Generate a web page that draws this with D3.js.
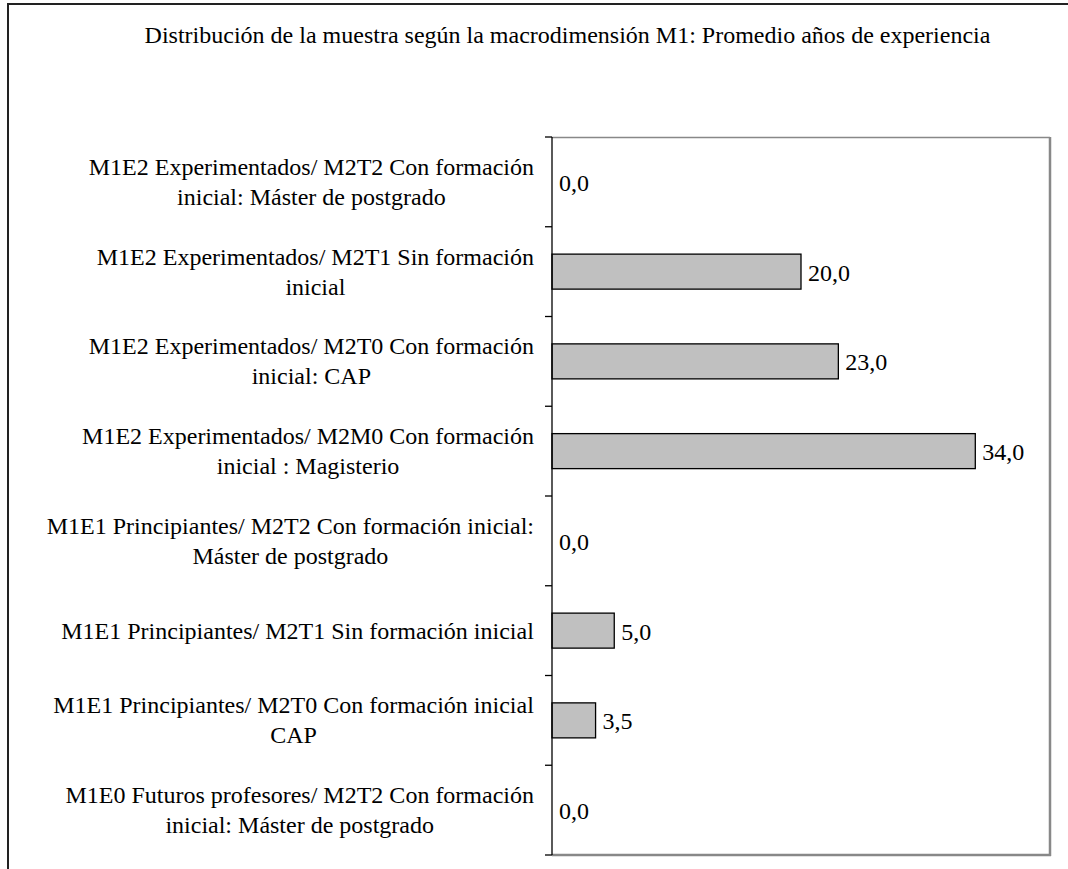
<!DOCTYPE html>
<html>
<head>
<meta charset="utf-8">
<script src="https://cdn.jsdelivr.net/npm/d3@7"></script>
<style>
  html, body { margin: 0; padding: 0; background: #fff; }
  svg { display: block; }
</style>
</head>
<body>
<svg id="chart" width="1068" height="869"></svg>
<script>
// Categories, listed from top to bottom; "\n" marks a line break in the label
const categories = [
  "M1E2 Experimentados/ M2T2 Con formación\ninicial: Máster de postgrado",
  "M1E2 Experimentados/ M2T1 Sin formación\ninicial",
  "M1E2 Experimentados/ M2T0 Con formación\ninicial: CAP",
  "M1E2 Experimentados/ M2M0 Con formación\ninicial : Magisterio",
  "M1E1 Principiantes/ M2T2 Con formación inicial:\nMáster de postgrado",
  "M1E1 Principiantes/ M2T1 Sin formación inicial",
  "M1E1 Principiantes/ M2T0 Con formación inicial\nCAP",
  "M1E0 Futuros profesores/ M2T2 Con formación\ninicial: Máster de postgrado"
];
// Average years of experience
const values = [0.0, 20.0, 23.0, 34.0, 0.0, 5.0, 3.5, 0.0];
const xDomain = [0, 40];
const title = "Distribución de la muestra según la macrodimensión M1: Promedio años de experiencia";

const FONT = "'Liberation Serif', 'Times New Roman', 'DejaVu Serif', serif";
const svg = d3.select("#chart").attr("font-family", FONT).style("font-family", FONT);
const plot = { left: 552, top: 137, right: 1050, bottom: 855 };

const x = d3.scaleLinear().domain(xDomain).range([plot.left, plot.right]);
const y = d3.scaleBand().domain(categories).range([plot.top, plot.bottom]).paddingInner(0.61).paddingOuter(0.305);
const band = d3.scaleBand().domain(categories).range([plot.top, plot.bottom]);
const fmt = v => d3.format(".1f")(v).replace(".", ",");

// Outer chart frame
svg.append("rect")
  .attr("x", 8).attr("y", 4).attr("width", 1100).attr("height", 900)
  .attr("fill", "none").attr("stroke", "#222").attr("stroke-width", 2);

// Title
svg.append("text")
  .attr("x", 567.5).attr("y", 43)
  .attr("text-anchor", "middle")
  .attr("font-size", 24)
  .style("font-family", FONT)
  .text(title);

// Plot area frame
svg.append("line").attr("x1", plot.left).attr("x2", plot.right).attr("y1", plot.top + 0.5).attr("y2", plot.top + 0.5)
  .attr("stroke", "#888").attr("stroke-width", 1.5);
svg.append("line").attr("x1", plot.right).attr("x2", plot.right).attr("y1", plot.top).attr("y2", plot.bottom + 1)
  .attr("stroke", "#888").attr("stroke-width", 2.5);
svg.append("line").attr("x1", plot.left).attr("x2", plot.right + 1).attr("y1", plot.bottom).attr("y2", plot.bottom)
  .attr("stroke", "#888").attr("stroke-width", 2.5);

// Bars
svg.append("g").selectAll("rect")
  .data(categories)
  .join("rect")
  .attr("x", x(0))
  .attr("y", d => y(d))
  .attr("width", (d, i) => x(values[i]) - x(0))
  .attr("height", y.bandwidth())
  .attr("fill", "#c0c0c0")
  .attr("stroke", "#000")
  .attr("stroke-width", 1.3)
  .attr("display", (d, i) => values[i] > 0 ? null : "none");

// Value labels
svg.append("g").selectAll("text")
  .data(categories)
  .join("text")
  .attr("x", (d, i) => x(values[i]) + 7)
  .attr("y", d => band(d) + band.bandwidth() / 2 + 9)
  .attr("font-size", 24)
  .style("font-family", FONT)
  .text((d, i) => fmt(values[i]));

// Category axis: boundary ticks and axis line
const axis = svg.append("g");
axis.append("line")
  .attr("x1", plot.left).attr("x2", plot.left)
  .attr("y1", plot.top).attr("y2", plot.bottom)
  .attr("stroke", "#000").attr("stroke-width", 1.3);
const edges = categories.map(c => band(c)).concat([plot.bottom]);
axis.selectAll("line.tick")
  .data(edges)
  .join("line")
  .attr("class", "tick")
  .attr("x1", plot.left - 7).attr("x2", plot.left)
  .attr("y1", d => d).attr("y2", d => d)
  .attr("stroke", "#000").attr("stroke-width", 1.3);

// Category labels: multi-line blocks, centred lines, block right-aligned
const labelRight = 534;
const lineH = 30;
const labels = axis.append("g");
categories.forEach(c => {
  const lines = c.split("\n");
  const t = labels.append("text")
    .attr("text-anchor", "middle")
    .attr("font-size", 24)
    .style("font-family", FONT);
  const cy = band(c) + band.bandwidth() / 2;
  lines.forEach((ln, i) => {
    t.append("tspan")
      .attr("x", 0)
      .attr("y", cy + (i - (lines.length - 1) / 2) * lineH + 8)
      .text(ln);
  });
  const w = t.node().getBBox().width;
  t.selectAll("tspan").attr("x", labelRight - w / 2);
});
</script>
</body>
</html>
